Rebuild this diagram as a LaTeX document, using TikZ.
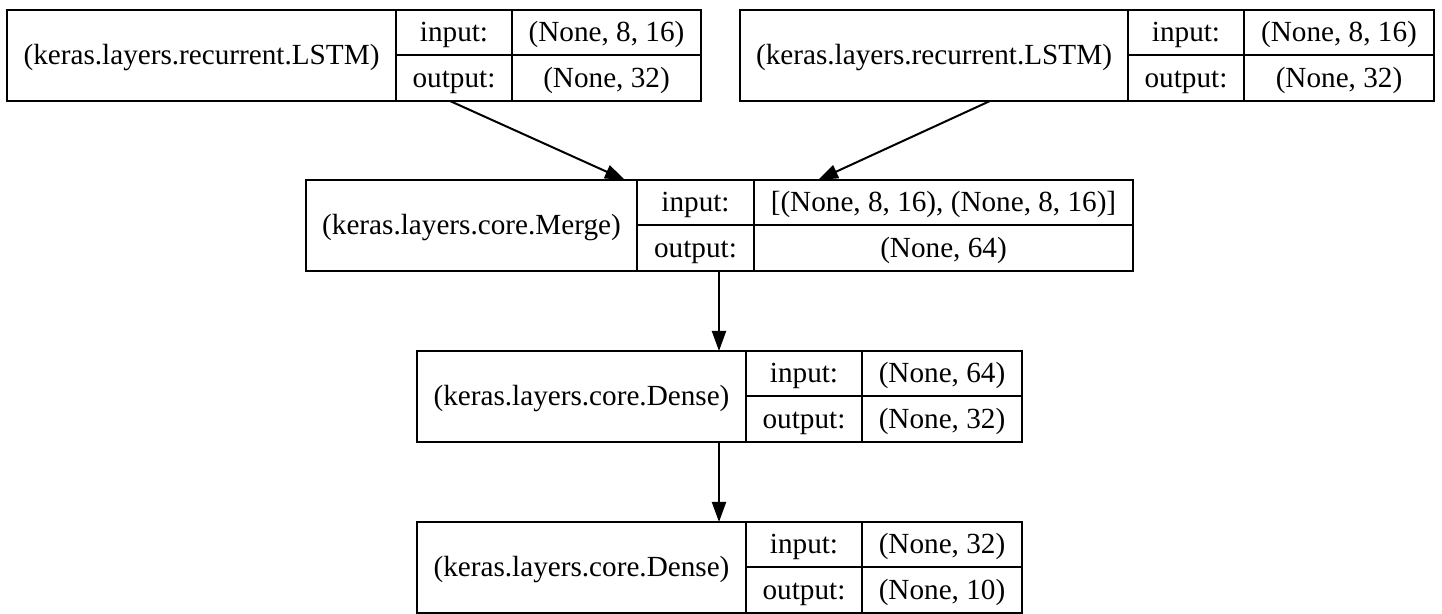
\documentclass[tikz,border=0pt]{standalone}
\usepackage{fontspec}
\setmainfont{Liberation Serif}
\usetikzlibrary{arrows.meta}
\tikzset{
  cell/.style={draw, line width=1pt, rectangle, inner sep=0pt, outer sep=0pt,
    text height=12pt, text depth=3pt,
    font=\fontsize{14.6}{16}\selectfont},
  arr/.style={line width=1pt, -{Triangle[length=10pt,width=7pt]}}
}
\newcommand\layerbox[9]{%
  \node[cell,anchor=north west,minimum width=#4,minimum height=45.5pt] (#1) at (#2,#3) {#7};
  \node[cell,anchor=north west,minimum width=#5,minimum height=22.75pt] (#1-i) at (#1.north east) {input:};
  \node[cell,anchor=north west,minimum width=#6,minimum height=22.75pt] (#1-iv) at (#1-i.north east) {#8};
  \node[cell,anchor=north west,minimum width=#5,minimum height=22.75pt] (#1-o) at (#1-i.south west) {output:};
  \node[cell,anchor=north west,minimum width=#6,minimum height=22.75pt] (#1-ov) at (#1-o.north east) {#9};
}
\begin{document}
\begin{tikzpicture}[x=0.5pt,y=-0.5pt]
\useasboundingbox (0,0) rectangle (1442,614);
\fill[white] (0,0) rectangle (1442,614);
\layerbox{la}{7}{10}{194.5pt}{58pt}{94.5pt}{(keras.layers.recurrent.LSTM)}{(None, 8, 16)}{(None, 32)}
\layerbox{lb}{740}{10}{194pt}{58pt}{95pt}{(keras.layers.recurrent.LSTM)}{(None, 8, 16)}{(None, 32)}
\layerbox{m}{306}{180}{165.5pt}{58.5pt}{189.5pt}{(keras.layers.core.Merge)}{[(None, 8, 16), (None, 8, 16)]}{(None, 64)}
\layerbox{da}{417}{351}{164.5pt}{58pt}{80pt}{(keras.layers.core.Dense)}{(None, 64)}{(None, 32)}
\layerbox{db}{417}{522}{164.5pt}{58pt}{80pt}{(keras.layers.core.Dense)}{(None, 32)}{(None, 10)}
\draw[arr] ([xshift=-2pt]la-o.south) -- ([xshift=-6pt]m.north east);
\draw[arr] ([xshift=28pt]lb.south) -- ([xshift=32pt]m-iv.north west);
\coordinate (tipa) at ([xshift=-13.5pt]da.north east);
\coordinate (tipb) at ([xshift=-13.5pt]db.north east);
\draw[arr] (m-o.south -| tipa) -- (tipa);
\draw[arr] (da.south -| tipb) -- (tipb);
\end{tikzpicture}
\end{document}
